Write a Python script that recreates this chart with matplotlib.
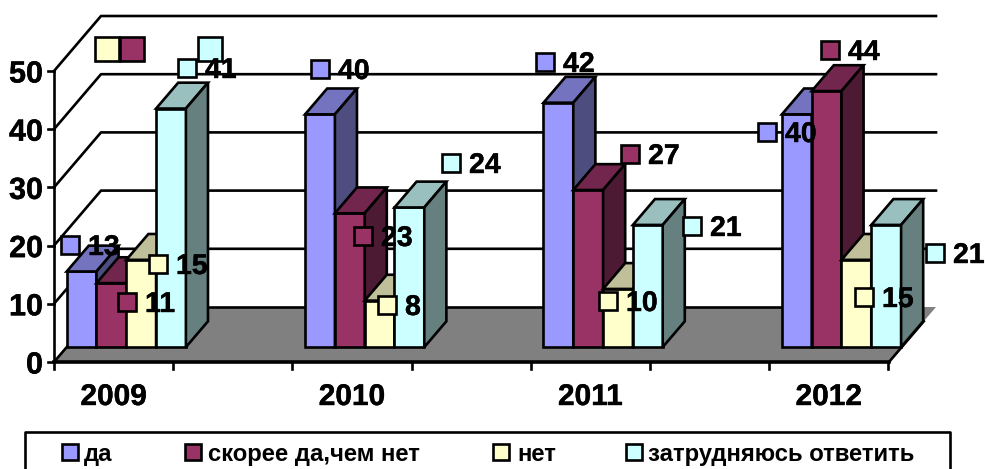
import matplotlib
matplotlib.use('Agg')
import matplotlib.pyplot as plt
import matplotlib.patheffects as pe
from matplotlib.patches import Polygon, Rectangle

years = ['2009', '2010', '2011', '2012']
series_names = ['да', 'скорее да,чем нет', 'нет', 'затрудняюсь ответить']
da = [13, 40, 42, 40]
skoree_da = [11, 23, 27, 44]
net = [15, 8, 10, 15]
zatrudnyayus = [41, 24, 21, 21]
y_ticks = [0, 10, 20, 30, 40, 50]

series = [da, skoree_da, net, zatrudnyayus]
colors = ['#9999FF', '#993366', '#FFFFCC', '#CCFFFF']

# where Excel left the data labels (centre of the key square), per series then year
label_pos = [
    [(70, 245), (320, 69), (545, 62), (767, 132)],
    [(127, 302), (363, 236), (630, 154), (830, 50)],
    [(158, 264), (387, 305), (608, 301), (864, 297)],
    [(187, 68), (451, 163), (692, 226), (935, 253)],
]
# leftover keys with no number next to them
stray_keys = [(107, 49, 2), (132, 49, 1), (210, 49, 3)]
legend_pos = [(70, 84), (193, 208), (501, 517), (634, 648)]

# pixel geometry of the oblique 3d box
X0 = 54
Y0 = 362
UNIT = 5.82
DEPTH_X = 47
DEPTH_Y = 55
CAT_W = 238.4
BAR_W = CAT_W / 8
BAR_D0 = 0.27
BAR_D1 = 0.74
X_END = 889
LW = 1.9
FONT = 'Liberation Sans'
HEAVY = [pe.withStroke(linewidth=0.3, foreground='black')]


def proj(x, value, depth=0.0):
    """x is in pixels along the front edge, value in chart units, depth 0..1."""
    return (x + depth * DEPTH_X, Y0 - value * UNIT - depth * DEPTH_Y)


def shade(color, k):
    r, g, b = matplotlib.colors.to_rgb(color)
    return (r * k, g * k, b * k)


def draw_bar(ax, x, value, color, z):
    a = BAR_D0
    b = BAR_D1
    x2 = x + BAR_W
    front = [proj(x, 0, a), proj(x2, 0, a), proj(x2, value, a), proj(x, value, a)]
    top = [proj(x, value, a), proj(x2, value, a), proj(x2, value, b), proj(x, value, b)]
    side = [proj(x2, 0, a), proj(x2, 0, b), proj(x2, value, b), proj(x2, value, a)]
    for pts, c in [(front, color), (top, shade(color, 0.75)), (side, shade(color, 0.5))]:
        ax.add_patch(Polygon(pts, closed=True, facecolor=c, edgecolor='black',
                             linewidth=LW, joinstyle='miter', zorder=z))


def draw_key(ax, cx, cy, size, color, z=50):
    ax.add_patch(Rectangle((cx - size / 2, cy - size / 2), size, size, facecolor=color,
                           edgecolor='black', linewidth=LW, zorder=z))


def main():
    fig = plt.figure(figsize=(9.85, 4.69), dpi=100)
    ax = fig.add_axes([0, 0, 1, 1])
    ax.set_xlim(0, 985)
    ax.set_ylim(469, 0)
    ax.set_axis_off()

    # walls
    for t in y_ticks[1:]:
        xs, ys = zip(proj(X0, t), proj(X0, t, 1), proj(X_END, t, 1))
        ax.plot(xs, ys, color='black', lw=LW, zorder=1)

    # floor
    floor = [proj(X0, 0), proj(X_END, 0), proj(X_END, 0, 1), proj(X0, 0, 1)]
    ax.add_patch(Polygon(floor, closed=True, facecolor='#808080', edgecolor='none', zorder=2))
    for p, q in [(proj(X0, 0), proj(X0, 0, 1)),
                 (proj(X0, 0, 1), proj(X_END - 20, 0, 1)),
                 (proj(X_END, 0), proj(X_END, 0, BAR_D1))]:
        ax.plot([p[0], q[0]], [p[1], q[1]], color='black', lw=LW, zorder=2.5)

    # axes
    ax.plot([X0, X0], [Y0, proj(X0, y_ticks[-1])[1]], color='black', lw=LW, zorder=3)
    ax.plot([X0, X_END], [Y0, Y0], color='black', lw=2.6, zorder=3)
    for t in y_ticks:
        y = proj(X0, t)[1]
        ax.plot([X0 - 6, X0], [y, y], color='black', lw=LW, zorder=3)
        ax.text(43, y, str(t), ha='right', va='center_baseline', fontsize=22,
                fontweight='bold', family=FONT, path_effects=HEAVY)
    for i in range(8):
        x = X0 + i * CAT_W / 2
        ax.plot([x, x], [Y0, Y0 + 7], color='black', lw=LW, zorder=3)
    for i, year in enumerate(years):
        ax.text(X0 + (i + 0.25) * CAT_W, 394, year, ha='center', va='center_baseline',
                fontsize=21.5, fontweight='bold', family=FONT, path_effects=HEAVY)

    # bars, left to right so the later ones cover the earlier ones
    z = 10
    for i in range(len(years)):
        for s, values in enumerate(series):
            draw_bar(ax, X0 + i * CAT_W + s * BAR_W, values[i], colors[s], z)
            z += 1

    # data labels
    for s, values in enumerate(series):
        for i, v in enumerate(values):
            cx, cy = label_pos[s][i]
            draw_key(ax, cx, cy, 18, colors[s])
            ax.text(cx + 18, cy, str(v), ha='left', va='center_baseline', fontsize=20.5,
                    fontweight='bold', family=FONT, zorder=51, path_effects=HEAVY)
    for cx, cy, s in stray_keys:
        draw_key(ax, cx, cy, 24, colors[s])

    # legend, bottom edge runs off the picture
    ax.plot([25, 25, 950, 950], [472, 432, 432, 472], color='black', lw=LW, zorder=60)
    for name, c, (kx, tx) in zip(series_names, colors, legend_pos):
        draw_key(ax, kx, 452, 16, c, z=61)
        ax.text(tx, 452, name, ha='left', va='center_baseline', fontsize=17.2,
                fontweight='bold', family=FONT, zorder=61)

    fig.savefig('out.png', dpi=100)
    plt.close(fig)


if __name__ == '__main__':
    main()
